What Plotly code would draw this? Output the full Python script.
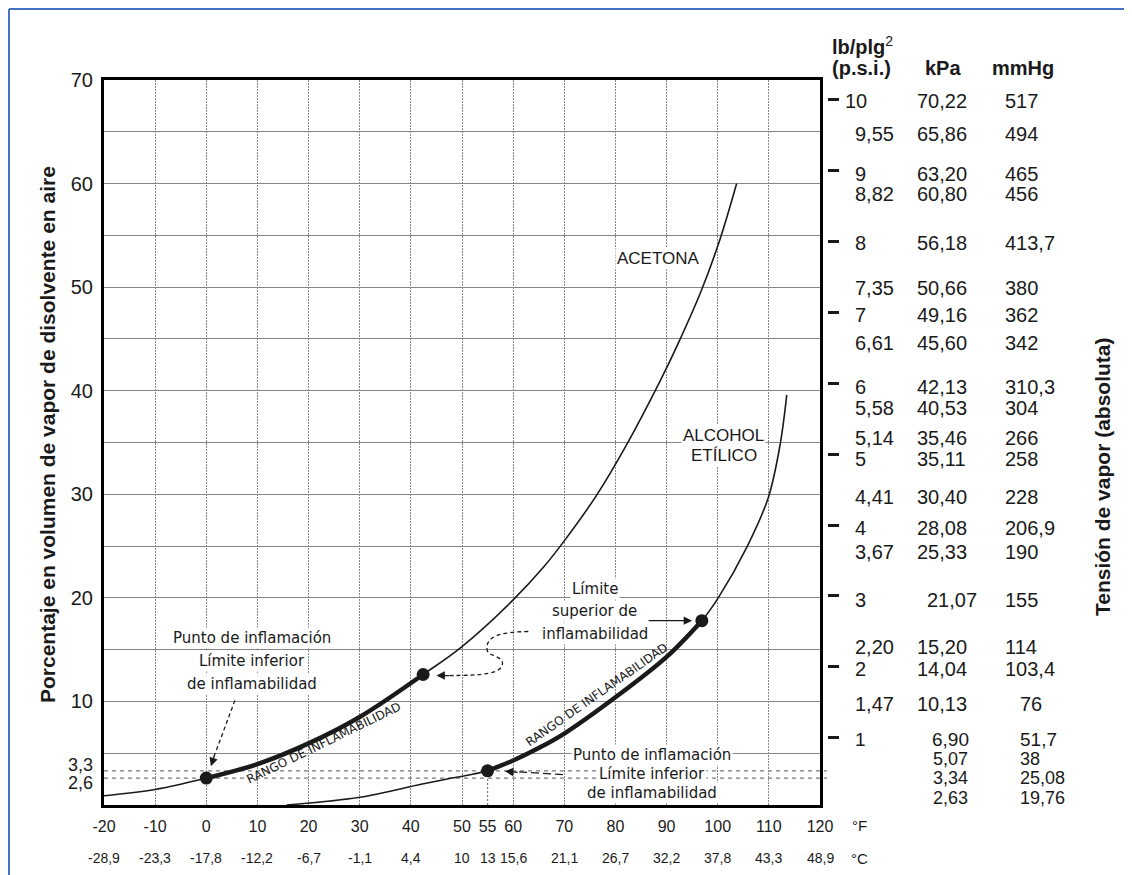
import plotly.graph_objects as go

# ---------------- data ----------------
acetone_f = [-20, -10, 0, 10, 20, 30, 42.4, 50, 60, 66, 70, 76.3, 82.2, 88.7, 92.3, 96.9, 100.5, 103.7]
acetone_pct = [0.9, 1.5, 2.6, 3.95, 5.95, 8.5, 12.6, 15.3, 19.8, 23.0, 25.5, 29.9, 34.8, 40.9, 44.6, 49.8, 54.7, 60.0]

ethanol_f = [15.7, 30, 42, 48, 55, 60, 65, 70, 80, 90, 96.9, 100.1, 105.7, 109.9, 112.2, 113.5]
ethanol_pct = [0.0, 0.75, 2.0, 2.6, 3.3, 4.3, 5.5, 6.9, 10.4, 14.3, 17.8, 20.0, 24.9, 29.7, 34.8, 39.6]

# flammability limits: [acetone lower, acetone upper, ethanol lower, ethanol upper]
limits_f = [0, 42.4, 55, 96.9]
limits_pct = [2.6, 12.6, 3.3, 17.8]

f_ticks = [-20, -10, 0, 10, 20, 30, 40, 50, 55, 60, 70, 80, 90, 100, 110, 120]
f_labels = ["-20", "-10", "0", "10", "20", "30", "40", "50", "55", "60", "70", "80", "90", "100", "110", "120"]
c_labels = ["-28,9", "-23,3", "-17,8", "-12,2", "-6,7", "-1,1", "4,4", "10", "13", "15,6",
            "21,1", "26,7", "32,2", "37,8", "43,3", "48,9"]
f_grid = [-10, 0, 10, 20, 30, 40, 50, 60, 70, 80, 90, 100, 110]

pct_grid = [0, 5, 10, 15, 20, 25, 30, 35, 40, 45, 50, 55, 60, 65, 70]
pct_labels = ["", "", "10", "", "20", "", "30", "", "40", "", "50", "", "60", "", "70"]
low_pct_values = [3.3, 2.6]
low_pct_labels = ["3,3", "2,6"]

psi_ticks = [1, 2, 3, 4, 5, 6, 7, 8, 9, 10]
table_psi = ["10", "9,55", "9", "8,82", "8", "7,35", "7", "6,61", "6", "5,58", "5,14", "5",
             "4,41", "4", "3,67", "3", "2,20", "2", "1,47", "1", "", "", ""]
table_kpa = ["70,22", "65,86", "63,20", "60,80", "56,18", "50,66", "49,16", "45,60", "42,13", "40,53",
             "35,46", "35,11", "30,40", "28,08", "25,33", "21,07", "15,20", "14,04", "10,13", "6,90",
             "5,07", "3,34", "2,63"]
table_mmhg = ["517", "494", "465", "456", "413,7", "380", "362", "342", "310,3", "304", "266", "258",
              "228", "206,9", "190", "155", "114", "103,4", "76", "51,7", "38", "25,08", "19,76"]
MMHG_PER_PSI = 51.715

# ---------------- styling / positions ----------------
# page coordinates (the page body adds an 8px offset to the figure)
OFF = 8
L, R_EDGE, T, B = 104, 820, 80, 805
W = 723  # paper width (px)
H = B - T
FIG_W, FIG_H = 1132 - OFF, 875 - OFF


def px2x(px):
    return (px - L) / W


def py2y(py):
    return (B - py) / H


NUM_FONT = "Liberation Sans, Arial, sans-serif"
TXT_FONT = "DejaVu Sans, Verdana, sans-serif"
INK = "#1a1a1a"

fig = go.Figure()

SPL = dict(shape="spline", smoothing=1.0)
fig.add_trace(go.Scatter(x=acetone_f, y=acetone_pct, mode="lines",
                         line=dict(color=INK, width=1.6, **SPL), hoverinfo="skip", showlegend=False))
fig.add_trace(go.Scatter(x=ethanol_f, y=ethanol_pct, mode="lines",
                         line=dict(color=INK, width=1.6, **SPL), hoverinfo="skip", showlegend=False))

ac_seg = [(f, p) for f, p in zip(acetone_f, acetone_pct) if limits_f[0] <= f <= limits_f[1]]
et_seg = [(f, p) for f, p in zip(ethanol_f, ethanol_pct) if limits_f[2] <= f <= limits_f[3]]
for seg in (ac_seg, et_seg):
    fig.add_trace(go.Scatter(x=[s[0] for s in seg], y=[s[1] for s in seg], mode="lines",
                             line=dict(color=INK, width=4.5, **SPL), hoverinfo="skip", showlegend=False))

fig.add_trace(go.Scatter(x=limits_f, y=limits_pct, mode="markers",
                         marker=dict(color=INK, size=13), hoverinfo="skip", showlegend=False))

annotations = []
shapes = []

for v in low_pct_values:
    shapes.append(dict(type="line", xref="paper", yref="y", x0=0, x1=1, y0=v, y1=v,
                       line=dict(color="#7a7a7a", width=1.2, dash="4px,4px"), layer="below"))
shapes.append(dict(type="line", xref="x", yref="y", x0=limits_f[2], x1=limits_f[2], y0=0, y1=limits_pct[2],
                   line=dict(color="#7a7a7a", width=1.2, dash="2px,2px"), layer="below"))

for v, lab, ys in zip(low_pct_values, low_pct_labels, [6, -5]):
    annotations.append(dict(x=px2x(95), xref="paper", y=v, yref="y", yshift=ys, text=lab,
                            showarrow=False, xanchor="right", yanchor="middle",
                            font=dict(family=NUM_FONT, size=18, color=INK)))

for f, c in zip(f_ticks, c_labels):
    annotations.append(dict(x=f, xref="x", y=py2y(858), yref="paper", text=c, showarrow=False,
                            xanchor="center", yanchor="middle",
                            font=dict(family=NUM_FONT, size=14, color=INK)))
for lab, yy in (("°F", 825), ("°C", 858)):
    annotations.append(dict(x=px2x(859), xref="paper", y=py2y(yy), yref="paper", text=lab, showarrow=False,
                            xanchor="center", yanchor="middle",
                            font=dict(family=NUM_FONT, size=15, color=INK)))

annotations.append(dict(x=px2x(47), xref="paper", y=py2y(435), yref="paper", textangle=-90,
                        xanchor="center", yanchor="middle",
                        text="<b>Porcentaje en volumen de vapor de disolvente en aire</b>", showarrow=False,
                        font=dict(family=NUM_FONT, size=21, color=INK)))
annotations.append(dict(x=px2x(1102), xref="paper", y=py2y(477), yref="paper", textangle=-90,
                        xanchor="center", yanchor="middle",
                        text="<b>Tensión de vapor (absoluta)</b>", showarrow=False,
                        font=dict(family=NUM_FONT, size=21, color=INK)))

hdr = dict(family=NUM_FONT, size=20, color=INK)
annotations.append(dict(x=px2x(830), xref="paper", y=py2y(46), yref="paper", xanchor="left", yanchor="middle",
                        text="<b>lb/plg</b><sup>2</sup>", showarrow=False, font=hdr))
annotations.append(dict(x=px2x(830), xref="paper", y=py2y(68), yref="paper", xanchor="left", yanchor="middle",
                        text="<b>(p.s.i.)</b>", showarrow=False, font=hdr))
annotations.append(dict(x=px2x(943), xref="paper", y=py2y(68), yref="paper", xanchor="center", yanchor="middle",
                        text="<b>kPa</b>", showarrow=False, font=hdr))
annotations.append(dict(x=px2x(1023), xref="paper", y=py2y(68), yref="paper", xanchor="center", yanchor="middle",
                        text="<b>mmHg</b>", showarrow=False, font=hdr))

row_yshift = [0, -1, -2, -10, 0, 1, -2, -2, -3, 6, 7, -4, 0, -2, -3, -3, 7, -1, 1, -1, -2, -3, -16]
row_size = [20] * 19 + [19, 18, 18, 18]
psi_xshift = [-10] + [0] * 22
kpa_xshift = [0] * 15 + [10, 0, 0, 0, 15, 16, 16, 16]
mmhg_xshift = [0] * 18 + [15, 15, 15, 15, 15]
for i in range(len(table_kpa)):
    if table_psi[i]:
        pos = float(table_psi[i].replace(",", "."))
    else:
        pos = float(table_mmhg[i].replace(",", ".")) / MMHG_PER_PSI
    for txt, xpx, xs in ((table_psi[i], 853, psi_xshift[i]),
                         (table_kpa[i], 915, kpa_xshift[i]),
                         (table_mmhg[i], 1003, mmhg_xshift[i])):
        if not txt:
            continue
        annotations.append(dict(x=px2x(xpx), xref="paper", y=pos, yref="y2", yshift=row_yshift[i] - 1,
                                xshift=xs, text=txt, showarrow=False, xanchor="left", yanchor="middle",
                                font=dict(family=NUM_FONT, size=row_size[i], color=INK)))


def block(lines, x, y, spacing, size, family=TXT_FONT):
    n = len(lines)
    for i, line in enumerate(lines):
        annotations.append(dict(x=x, y=y, xref="x", yref="y", text=line, showarrow=False,
                                yshift=(n - 1) / 2 * spacing - i * spacing,
                                xanchor="center", yanchor="middle", bgcolor="white", borderpad=1,
                                font=dict(family=family, size=size, color=INK)))


block(["Punto de inflamación", "Límite inferior", "de inflamabilidad"], 8.9, 13.95, 23, 15)
block(["Límite", "superior de", "inflamabilidad"], 76.0, 18.7, 22.5, 15)
block(["Punto de inflamación", "Límite inferior", "de inflamabilidad"], 87.2, 3.04, 19, 15)
block(["ACETONA"], 88.5, 52.8, 20, 17, NUM_FONT)
block(["ALCOHOL", "ETÍLICO"], 101.2, 34.7, 20, 17, NUM_FONT)

for x, y, ang in ((23.0, 5.94, -26), (76.3, 10.6, -35)):
    annotations.append(dict(x=x, y=y, xref="x", yref="y", text="RANGO DE INFLAMABILIDAD", showarrow=False,
                            xanchor="center", yanchor="middle",
                            textangle=ang, font=dict(family=TXT_FONT, size=12, color=INK)))

arrow_line = dict(color=INK, width=1.3, dash="4px,3px")
shapes.append(dict(type="line", xref="x", yref="y", x0=5.6, y0=10.1, x1=1.3, y1=4.4, line=arrow_line))
annotations.append(dict(x=0.9, y=3.75, xref="x", yref="y", text="", showarrow=True, ax=4, ay=-12,
                        arrowhead=2, arrowsize=1.3, arrowwidth=1.3, arrowcolor=INK))
shapes.append(dict(type="path", xref="x", yref="y",
                   path="M 62.97,16.75 C 57.5,16.7 54.6,16.3 54.9,15.0 C 55.1,14.3 58.2,14.4 57.9,13.6 "
                        "C 57.6,12.7 54.5,12.5 47.0,12.5",
                   line=arrow_line))
annotations.append(dict(x=45.0, y=12.5, xref="x", yref="y", text="", showarrow=True, ax=14, ay=0,
                        arrowhead=2, arrowsize=1.3, arrowwidth=1.3, arrowcolor=INK))
annotations.append(dict(x=95.0, y=limits_pct[3], xref="x", yref="y", text="", showarrow=True, ax=-45, ay=0,
                        arrowhead=2, arrowsize=1.3, arrowwidth=1.3, arrowcolor=INK))
shapes.append(dict(type="line", xref="x", yref="y", x0=69.75, y0=2.94, x1=61.0, y1=3.2,
                   line=dict(color=INK, width=1.3, dash="8px,4px")))
annotations.append(dict(x=58.4, y=3.25, xref="x", yref="y", text="", showarrow=True, ax=14, ay=1,
                        arrowhead=2, arrowsize=1.3, arrowwidth=1.3, arrowcolor=INK))

# outer blue frame (as close to the page corner as the figure allows)
blue = "#4472C4"
shapes.append(dict(type="line", xref="paper", yref="paper", x0=px2x(OFF + 1), x1=px2x(1140),
                   y0=py2y(OFF + 1), y1=py2y(OFF + 1), line=dict(color=blue, width=2)))
shapes.append(dict(type="line", xref="paper", yref="paper", x0=px2x(OFF + 1), x1=px2x(OFF + 1),
                   y0=py2y(OFF + 1), y1=py2y(890), line=dict(color=blue, width=2)))

xdom_end = (R_EDGE - L) / W

fig.update_layout(
    width=FIG_W, height=FIG_H,
    margin=dict(l=L - OFF, r=FIG_W - (L - OFF) - W, t=T - OFF, b=FIG_H - (B - OFF)),
    paper_bgcolor="white", plot_bgcolor="white",
    showlegend=False,
    xaxis=dict(domain=[0, xdom_end], range=[-20, 120], tickmode="array", tickvals=f_ticks, ticktext=f_labels,
               showgrid=False, zeroline=False, showline=True, linewidth=3, linecolor="black", mirror=True,
               ticks="", ticklabelstandoff=5, automargin=False,
               tickfont=dict(family=NUM_FONT, size=16, color=INK)),
    xaxis2=dict(domain=[0, xdom_end], range=[-20, 120], overlaying="x", anchor="y", tickmode="array",
                tickvals=f_grid, showticklabels=False, ticks="", showgrid=True, gridcolor="#888888",
                gridwidth=1.2, griddash="2px,1px", zeroline=False, showline=False),
    yaxis=dict(range=[0, 70], tickmode="array", tickvals=pct_grid, ticktext=pct_labels,
               showgrid=True, gridcolor="#858585", gridwidth=1.2, zeroline=False,
               showline=True, linewidth=3, linecolor="black", mirror=True, ticks="", automargin=False,
               ticklabelstandoff=4, tickfont=dict(family=NUM_FONT, size=20, color=INK)),
    yaxis2=dict(range=[0.05, 10.28], overlaying="y", anchor="free", position=1.0, side="right",
                tickmode="array", tickvals=psi_ticks, showticklabels=False, ticks="outside",
                ticklen=11, tickwidth=2.5, tickcolor=INK, showgrid=False, zeroline=False, showline=False),
    annotations=annotations,
    shapes=shapes,
)

fig.add_trace(go.Scatter(x=[-20], y=[0.05], xaxis="x2", yaxis="y2", mode="markers",
                         marker=dict(opacity=0), hoverinfo="skip", showlegend=False))

fig.write_html("out.html")
